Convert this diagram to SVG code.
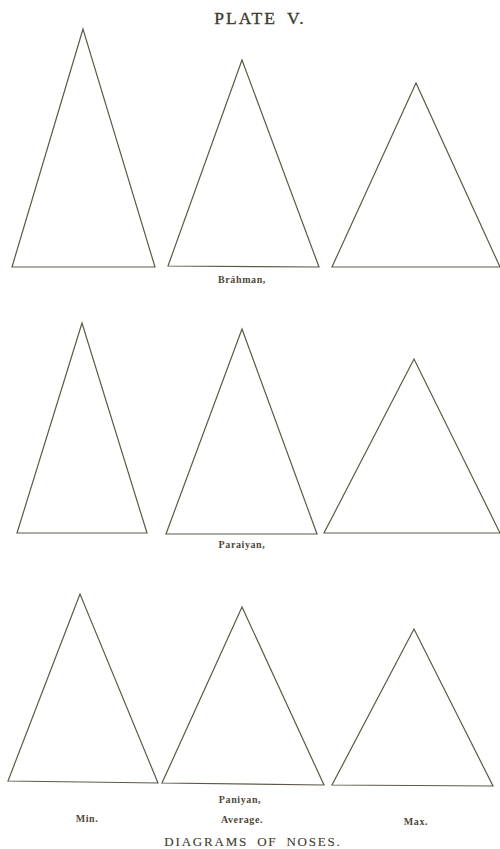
<svg xmlns="http://www.w3.org/2000/svg" width="500" height="849" viewBox="0 0 500 849">
<style>
.tri{fill:none;stroke:#5e5846;stroke-width:1.2;stroke-linejoin:miter}
.lbl{font-family:"Liberation Serif",serif;font-weight:bold;font-size:10px;fill:#4e4a3a;text-anchor:middle;letter-spacing:0.6px}
.title{font-family:"Liberation Serif",serif;fill:#3e3b2e;stroke:#3e3b2e;stroke-width:0.35;text-anchor:middle}
.foot{font-family:"Liberation Serif",serif;fill:#3e3b2e;stroke:#3e3b2e;stroke-width:0.12;text-anchor:middle}
</style>
<rect width="500" height="849" fill="#ffffff"/>
<text class="title" x="260" y="24" font-size="17.5" letter-spacing="2" word-spacing="4">PLATE V.</text>
<g id="brahman">
<polygon id="brahman-min" class="tri" points="83,29 12,267 155,267"/>
<polygon id="brahman-avg" class="tri" points="242,60 168,266 319,267"/>
<polygon id="brahman-max" class="tri" points="416,83 332,267 500,267"/>
<text class="lbl" x="242" y="283">Bráhman,</text>
</g>
<g id="paraiyan">
<polygon id="paraiyan-min" class="tri" points="82,323 17,533 147,533"/>
<polygon id="paraiyan-avg" class="tri" points="242,329 166,534 317,534"/>
<polygon id="paraiyan-max" class="tri" points="414,359 324,533 500,533"/>
<text class="lbl" x="242" y="548">Paraiyan,</text>
</g>
<g id="paniyan">
<polygon id="paniyan-min" class="tri" points="80,594 8,781 158,783"/>
<polygon id="paniyan-avg" class="tri" points="242,607 162,783 324,785"/>
<polygon id="paniyan-max" class="tri" points="414,629 332,785 493,786"/>
<text class="lbl" x="240" y="803">Paniyan,</text>
</g>
<text class="lbl" x="87" y="822">Min.</text>
<text class="lbl" x="242" y="823">Average.</text>
<text class="lbl" x="416" y="825">Max.</text>
<text class="foot" x="253" y="846" font-size="13" letter-spacing="1.8" word-spacing="4">DIAGRAMS OF NOSES.</text>
</svg>
